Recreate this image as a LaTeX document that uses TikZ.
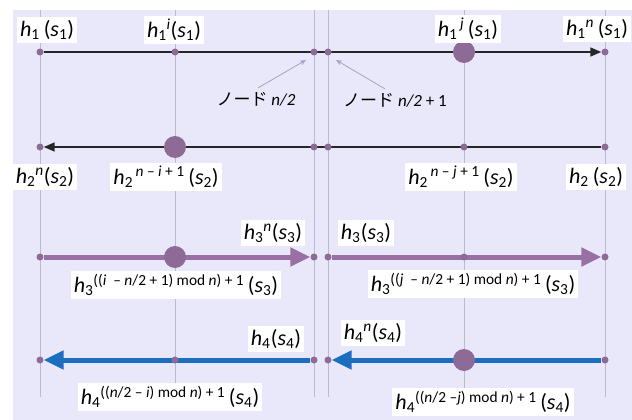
\documentclass[tikz,border=0pt]{standalone}
\usepackage{fontspec}
\setmainfont{Carlito}
\newfontfamily\cjk{Noto Sans CJK JP}
\usetikzlibrary{arrows.meta,positioning}
\definecolor{bglav}{RGB}{232,232,250}
\definecolor{gridgray}{RGB}{190,184,214}
\definecolor{dotpurple}{RGB}{142,106,150}
\definecolor{arrpurple}{RGB}{152,112,164}
\definecolor{arrblue}{RGB}{28,110,190}
\definecolor{notegray}{RGB}{168,160,200}
\pgfdeclarelayer{back}
\pgfsetlayers{back,main}
% hash label: h_k^{sup}(s_k)
\newcommand{\hlab}[3]{\textit{h}\textsubscript{#1}\textsuperscript{#2}#3(\textit{s}\textsubscript{#1})}

\begin{document}
\begin{tikzpicture}[
  x=1pt, y=-1pt,
  every node/.style={font=\fontsize{22}{26}\selectfont},
  dot/.style={circle, fill=dotpurple, inner sep=0pt, minimum size=7pt},
  bigdot/.style={circle, fill=dotpurple, inner sep=0pt, minimum size=22pt},
  lbl/.style={fill=white, inner sep=3pt},
  gridline/.style={draw=gridgray, line width=0.8pt},
  thinarr/.style={-{Triangle[length=11pt, width=9pt]}, line width=1.6pt, black!85},
  fatarr/.style={-{Triangle[length=20pt, width=18pt]}, line width=5pt},
  note/.style={-{Stealth[length=6pt, width=5pt]}, notegray, line width=0.8pt},
  notetext/.style={font=\fontsize{17}{20}\selectfont, inner sep=1pt}
]
  \useasboundingbox (0,0) rectangle (632,420);

  % Dots on the four rings (columns x = 40, 175, 314, 328, 464, 605)
  \foreach \r/\y in {1/52, 2/147, 3/257, 4/360}
    \foreach \c/\x in {1/40, 2/175, 3/314, 4/328, 5/464, 6/605}
      \node[dot] (d\r\c) at (\x,\y) {};

  % Large dots (hashed positions)
  \node[bigdot] (b15) at (d15) {};
  \node[bigdot] (b22) at (d22) {};
  \node[bigdot] (b32) at (d32) {};
  \node[bigdot] (b45) at (d45) {};

  \begin{pgfonlayer}{back}
    % Background and vertical guides
    \fill[bglav] (13,10) rectangle (632,420);
    \foreach \x in {40, 175, 314, 328, 464, 605}
      \draw[gridline] (\x,10) -- (\x,397);

    % Row 1 and 2: thin black arrows
    \draw[thinarr] (d11) -- (d16);
    \draw[thinarr] (d26) -- (d21);

    % Row 3: purple, two halves to the right
    \draw[fatarr, arrpurple] (d31) -- (d33);
    \draw[fatarr, arrpurple] (d34) -- (d36);

    % Row 4: blue, two halves to the left
    \draw[fatarr, arrblue] (d43) -- (d41);
    \draw[fatarr, arrblue] (d46) -- (d44);
  \end{pgfonlayer}

  % Row 1 labels
  \node[lbl] (l11) at (47,30) {\hlab{1}{}{\,}};
  \node[lbl] (l12) at (174,30) {\hlab{1}{\textit{i}}{}};
  \node[lbl] (l15) at (468,29) {\hlab{1}{\,\textit{j}}{\,}};
  \node[lbl] (l16) at (597,29) {\hlab{1}{\textit{n}}{\,}};

  % Row 2 labels
  \node[lbl] (l21) at (45,177) {\hlab{2}{\textit{n}}{}};
  \node[lbl] (l22) at (166,177) {\hlab{2}{\,\textit{n} -- \textit{i} + 1}{\,}};
  \node[lbl] (l25) at (461,177) {\hlab{2}{\,\textit{n} -- \textit{j} + 1}{\,}};
  \node[lbl] (l26) at (596,177) {\hlab{2}{}{\,}};

  % Row 3 labels
  \node[lbl] (l31) at (273,233) {\hlab{3}{\textit{n}}{}};
  \node[lbl] (l34) at (366,233) {\hlab{3}{}{}};
  \node[lbl] (l32) at (176,285) {\hlab{3}{((\textit{i} \ -- \textit{n}/2 + 1) mod \textit{n}) + 1}{\,}};
  \node[lbl] (l35) at (473,284) {\hlab{3}{((\textit{j} \ -- \textit{n}/2 + 1) mod \textit{n}) + 1}{\,}};

  % Row 4 labels
  \node[lbl] (l41) at (276,339) {\hlab{4}{}{}};
  \node[lbl] (l44) at (373,333) {\hlab{4}{\textit{n}}{}};
  \node[lbl] (l42) at (170,397) {\hlab{4}{((\textit{n}/2 -- \textit{i}) mod \textit{n}) + 1}{\,}};
  \node[lbl] (l45) at (483,402) {\hlab{4}{((\textit{n}/2 --\textit{j}) mod \textit{n}) + 1}{\,}};

  % Middle node notes
  \node[notetext] (n1) at (256,99) {{\cjk ノード} \textit{n/2}};
  \node[notetext] (n2) at (395,100) {{\cjk ノード} \textit{n/2} + 1};
  \coordinate (t1) at (306,60);
  \coordinate (t2) at (336,60);
  \draw[note] ([xshift=2pt, yshift=3pt]n1.north) -- (t1);
  \draw[note] ([xshift=-10pt, yshift=3pt]n2.north) -- (t2);
\end{tikzpicture}
\end{document}
